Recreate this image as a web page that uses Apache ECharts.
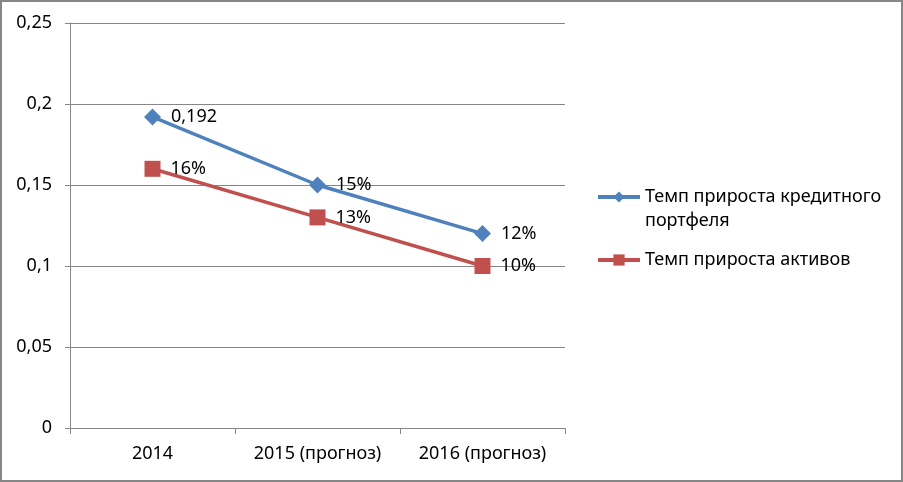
<!DOCTYPE html>
<html><head><meta charset="utf-8">
<script src="https://cdn.jsdelivr.net/npm/echarts@6/dist/echarts.min.js"></script>
<style>
html,body{margin:0;padding:0;background:#fff;}
#c{width:903px;height:482px;position:absolute;left:0;top:0;}
#b{position:absolute;left:0;top:0;width:903px;height:482px;box-sizing:border-box;border:2px solid #868686;pointer-events:none;}
</style></head>
<body><div id="c"></div><div id="b"></div>
<script>
const categories = ['2014', '2015 (прогноз)', '2016 (прогноз)'];
const creditValues = [0.192, 0.15, 0.12];
const creditLabels = ['0,192', '15%', '12%'];
const assetValues = [0.16, 0.13, 0.10];
const assetLabels = ['16%', '13%', '10%'];
const seriesNames = ['Темп прироста кредитного\nпортфеля', 'Темп прироста активов'];

const FONT = 'Noto Sans';
const FS = 18;
const chart = echarts.init(document.getElementById('c'));
chart.setOption({
  animation: false,
  textStyle: {fontFamily: FONT},
  grid: {left: 70, right: 338, top: 23, bottom: 54},
  legend: {
    orient: 'vertical', left: 591, top: 180,
    itemWidth: 42, itemHeight: 14, itemGap: 39,
    lineStyle: {width: 4},
    textStyle: {fontFamily: FONT, fontSize: FS, color: '#000', lineHeight: 24},
    formatter: name => name.split('\n')[0],
    data: seriesNames
  },
  graphic: [{
    type: 'text', left: 645, top: 209,
    style: {text: seriesNames[0].split('\n')[1], fontFamily: FONT, fontSize: FS, fill: '#000', lineHeight: 24}
  }],
  xAxis: {
    type: 'category', data: categories, boundaryGap: true,
    axisLine: {lineStyle: {color: '#868686', width: 1}},
    axisTick: {show: true, length: 6, lineStyle: {color: '#868686'}},
    axisLabel: {fontFamily: FONT, fontSize: FS, color: '#000', margin: 17, interval: 0, hideOverlap: false}
  },
  yAxis: {
    type: 'value', min: 0, max: 0.25, interval: 0.05,
    axisLine: {show: true, lineStyle: {color: '#868686'}},
    axisTick: {show: true, length: 5, lineStyle: {color: '#868686'}},
    splitLine: {lineStyle: {color: '#868686', width: 1}},
    axisLabel: {fontFamily: FONT, fontSize: FS, color: '#000', margin: 18,
      formatter: v => String(Math.round(v * 100) / 100).replace('.', ',')}
  },
  series: [
    {
      name: seriesNames[0], type: 'line', data: creditValues,
      symbol: 'diamond', symbolSize: 17,
      lineStyle: {color: '#4F81BD', width: 3.5},
      itemStyle: {color: '#4F81BD'},
      label: {show: true, position: 'right', distance: 10, fontFamily: FONT, fontSize: FS, color: '#000',
        formatter: p => creditLabels[p.dataIndex]}
    },
    {
      name: seriesNames[1], type: 'line', data: assetValues,
      symbol: 'rect', symbolSize: 16,
      lineStyle: {color: '#C0504D', width: 3.5},
      itemStyle: {color: '#C0504D'},
      label: {show: true, position: 'right', distance: 10, fontFamily: FONT, fontSize: FS, color: '#000',
        formatter: p => assetLabels[p.dataIndex]}
    }
  ]
});
</script></body></html>
